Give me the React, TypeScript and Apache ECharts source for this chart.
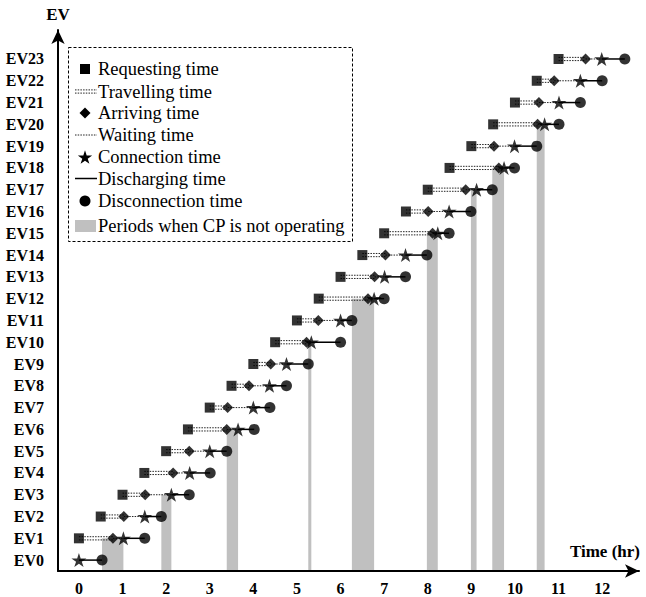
import React, { useEffect, useRef } from "react";
import * as echarts from "echarts";

const evIds = [0, 1, 2, 3, 4, 5, 6, 7, 8, 9, 10, 11, 12, 13, 14, 15, 16, 17, 18, 19, 20, 21, 22, 23];
const requestT = [null, 0, 0.5, 1, 1.5, 2, 2.5, 3, 3.5, 4, 4.5, 5, 5.5, 6, 6.5, 7, 7.5, 8, 8.5, 9, 9.5, 10, 10.5, 11];
const arriveT = [null, 0.78, 1.03, 1.52, 2.16, 2.53, 3.39, 3.41, 3.9, 4.4, 5.22, 5.49, 6.63, 6.78, 7.03, 8.11, 8.01, 8.87, 9.63, 9.52, 10.52, 10.55, 10.9, 11.62];
const connectT = [0, 1.02, 1.51, 2.12, 2.54, 3.0, 3.65, 4.0, 4.37, 4.76, 5.33, 6.0, 6.77, 7.01, 7.49, 8.23, 8.49, 9.12, 9.75, 9.99, 10.68, 11.01, 11.5, 11.99];
const disconnectT = [0.53, 1.51, 1.89, 2.53, 3.01, 3.39, 4.02, 4.38, 4.76, 5.26, 6.0, 6.26, 7.0, 7.49, 7.98, 8.49, 8.99, 9.48, 9.99, 10.5, 11.01, 11.5, 12.0, 12.52];

const offStart = [0.53, 1.89, 3.39, 5.26, 6.26, 7.98, 8.99, 9.48, 10.5];
const offEnd = [1.02, 2.12, 3.65, 5.33, 6.77, 8.23, 9.12, 9.75, 10.68];
const offTopEV = [1, 3, 6, 10, 12, 15, 17, 18, 20];

const xTicks = [0, 1, 2, 3, 4, 5, 6, 7, 8, 9, 10, 11, 12];

const legendLabels = [
  "Requesting time",
  "Travelling time",
  "Arriving time",
  "Waiting time",
  "Connection time",
  "Discharging time",
  "Disconnection time",
  "Periods when CP is not operating",
];

const FONT = "'Liberation Serif', 'Times New Roman', serif";

function starPoints(cx: number, cy: number, r: number): number[][] {
  const pts: number[][] = [];
  for (let i = 0; i < 10; i++) {
    const a = (-90 + i * 36) * (Math.PI / 180);
    const rr = i % 2 === 0 ? r : r * 0.382;
    pts.push([cx + rr * Math.cos(a), cy + rr * Math.sin(a)]);
  }
  return pts;
}

const starPath =
  "path://" +
  starPoints(50, 50, 50)
    .map((p, i) => (i === 0 ? "M" : "L") + p[0].toFixed(2) + " " + p[1].toFixed(2))
    .join(" ") +
  " Z";

export default function App() {
  const ref = useRef<HTMLDivElement>(null);

  useEffect(() => {
    if (!ref.current) return;
    const chart = echarts.init(ref.current, null, { renderer: "svg" });

    const pts = (arr: (number | null)[]) =>
      evIds.filter((i) => arr[i] !== null).map((i) => [arr[i] as number, i]);

    const seg = (a: (number | null)[], b: (number | null)[]) =>
      evIds.filter((i) => a[i] !== null && b[i] !== null).map((i) => [i, a[i], b[i]]);

    const travelData = seg(requestT, arriveT);
    const waitData = seg(arriveT, connectT);
    const dischargeData = seg(connectT, disconnectT);
    const offData = offStart.map((s, i) => [s, offEnd[i], offTopEV[i]]);

    const Y_MIN = -0.5;

    const lineRender = (kind: string) => (params: any, api: any) => {
      const y = api.value(0);
      const p1 = api.coord([api.value(1), y]);
      const p2 = api.coord([api.value(2), y]);
      if (kind === "travel") {
        return {
          type: "group",
          children: [-1.6, 1.6].map((d) => ({
            type: "line",
            shape: { x1: p1[0], y1: p1[1] + d, x2: p2[0], y2: p2[1] + d },
            style: { stroke: "#222", lineWidth: 1, lineDash: [1.5, 1.2] },
          })),
        };
      }
      if (kind === "wait") {
        return {
          type: "line",
          shape: { x1: p1[0], y1: p1[1], x2: p2[0], y2: p2[1] },
          style: { stroke: "#222", lineWidth: 1, lineDash: [1.5, 1.2] },
        };
      }
      return {
        type: "line",
        shape: { x1: p1[0], y1: p1[1], x2: p2[0], y2: p2[1] },
        style: { stroke: "#000", lineWidth: 1.5 },
      };
    };

    const lx1 = 75;
    const lx2 = 97;
    const lmx = 85;
    const rowsY = [69, 91.5, 113, 135, 157, 178.5, 201, 226];
    const legendGraphics: any[] = [
      {
        type: "rect",
        shape: { x: 68.5, y: 47.5, width: 284, height: 194 },
        style: { fill: "#fff", stroke: "#000", lineWidth: 1, lineDash: [3, 2] },
        z: 100,
      },
      {
        type: "rect",
        shape: { x: lmx - 5, y: rowsY[0] - 5, width: 10, height: 10 },
        style: { fill: "#000" },
        z: 101,
      },
      {
        type: "line",
        shape: { x1: lx1, y1: rowsY[1] - 1.6, x2: lx2, y2: rowsY[1] - 1.6 },
        style: { stroke: "#222", lineWidth: 1, lineDash: [1.5, 1.2] },
        z: 101,
      },
      {
        type: "line",
        shape: { x1: lx1, y1: rowsY[1] + 1.6, x2: lx2, y2: rowsY[1] + 1.6 },
        style: { stroke: "#222", lineWidth: 1, lineDash: [1.5, 1.2] },
        z: 101,
      },
      {
        type: "polygon",
        shape: {
          points: [
            [lmx, rowsY[2] - 5.5],
            [lmx + 5.5, rowsY[2]],
            [lmx, rowsY[2] + 5.5],
            [lmx - 5.5, rowsY[2]],
          ],
        },
        style: { fill: "#000" },
        z: 101,
      },
      {
        type: "line",
        shape: { x1: lx1, y1: rowsY[3], x2: lx2, y2: rowsY[3] },
        style: { stroke: "#222", lineWidth: 1, lineDash: [1.5, 1.2] },
        z: 101,
      },
      {
        type: "polygon",
        shape: { points: starPoints(lmx, rowsY[4] + 0.8, 7.5) },
        style: { fill: "#000" },
        z: 101,
      },
      {
        type: "line",
        shape: { x1: lx1, y1: rowsY[5], x2: lx2, y2: rowsY[5] },
        style: { stroke: "#000", lineWidth: 1.5 },
        z: 101,
      },
      {
        type: "circle",
        shape: { cx: lmx, cy: rowsY[6], r: 5.5 },
        style: { fill: "#000" },
        z: 101,
      },
      {
        type: "rect",
        shape: { x: lx1, y: rowsY[7] - 6, width: 21, height: 12 },
        style: { fill: "#c0c0c0" },
        z: 101,
      },
      ...legendLabels.map((t, i) => ({
        type: "text",
        x: 98,
        y: rowsY[i],
        style: {
          text: t,
          font: `18.5px ${FONT}`,
          fill: "#000",
          verticalAlign: "middle",
          align: "left",
        },
        z: 102,
      })),
      {
        type: "text",
        x: 640,
        y: 551,
        style: {
          text: "Time (hr)",
          font: `bold 17px ${FONT}`,
          fill: "#000",
          align: "right",
          verticalAlign: "middle",
        },
        z: 102,
      },
    ];

    chart.setOption({
      animation: false,
      backgroundColor: "#fff",
      grid: { left: 58, right: 7, top: 30, bottom: 26, containLabel: false },
      xAxis: {
        type: "value",
        min: -0.48,
        max: 12.845,
        splitLine: { show: false },
        axisTick: { show: false },
        axisLine: {
          show: true,
          onZero: false,
          symbol: ["none", "arrow"],
          symbolSize: [10, 14],
          lineStyle: { color: "#000", width: 2 },
        },
        axisLabel: {
          customValues: xTicks,
          margin: 9,
          color: "#000",
          fontFamily: FONT,
          fontWeight: "bold",
          fontSize: 16,
        },
      },
      yAxis: {
        type: "value",
        min: Y_MIN,
        max: 24.33,
        name: "EV",
        nameLocation: "end",
        nameGap: 7,
        nameTextStyle: { color: "#000", fontFamily: FONT, fontWeight: "bold", fontSize: 17 },
        splitLine: { show: false },
        axisTick: { show: false },
        axisLine: {
          show: true,
          onZero: false,
          symbol: ["none", "arrow"],
          symbolSize: [10, 14],
          lineStyle: { color: "#000", width: 2 },
        },
        axisLabel: {
          customValues: evIds,
          formatter: (v: number) => "EV" + v,
          margin: 14,
          color: "#000",
          fontFamily: FONT,
          fontWeight: "bold",
          fontSize: 16,
        },
      },
      graphic: legendGraphics,
      series: [
        {
          type: "custom",
          name: "Periods when CP is not operating",
          data: offData,
          encode: { x: [0, 1], y: 2 },
          z: 1,
          renderItem: (params: any, api: any) => {
            const a = api.coord([api.value(0), api.value(2)]);
            const b = api.coord([api.value(1), Y_MIN]);
            return {
              type: "rect",
              shape: { x: a[0], y: a[1], width: b[0] - a[0], height: b[1] - a[1] - 1 },
              style: { fill: "#c0c0c0" },
            };
          },
        },
        {
          type: "custom",
          name: "Travelling time",
          data: travelData,
          encode: { x: [1, 2], y: 0 },
          z: 2,
          renderItem: lineRender("travel"),
        },
        {
          type: "custom",
          name: "Waiting time",
          data: waitData,
          encode: { x: [1, 2], y: 0 },
          z: 2,
          renderItem: lineRender("wait"),
        },
        {
          type: "custom",
          name: "Discharging time",
          data: dischargeData,
          encode: { x: [1, 2], y: 0 },
          z: 2,
          renderItem: lineRender("discharge"),
        },
        {
          type: "scatter",
          name: "Requesting time",
          data: pts(requestT),
          symbol: "rect",
          symbolSize: 10,
          itemStyle: { color: "#000" },
          z: 3,
        },
        {
          type: "scatter",
          name: "Arriving time",
          data: pts(arriveT),
          symbol: "diamond",
          symbolSize: [11, 11],
          itemStyle: { color: "#000" },
          z: 4,
        },
        {
          type: "scatter",
          name: "Disconnection time",
          data: pts(disconnectT),
          symbol: "circle",
          symbolSize: 11,
          itemStyle: { color: "#000" },
          z: 5,
        },
        {
          type: "scatter",
          name: "Connection time",
          data: pts(connectT),
          symbol: starPath,
          symbolSize: [15, 14],
          itemStyle: { color: "#000" },
          z: 6,
        },
      ],
    });

    return () => chart.dispose();
  }, []);

  return <div ref={ref} style={{ width: 646, height: 597, position: "absolute", left: 0, top: 0 }} />;
}
